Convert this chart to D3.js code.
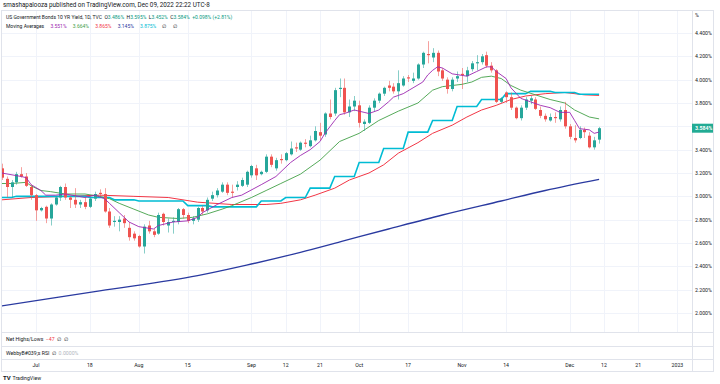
<!DOCTYPE html>
<html>
<head>
<meta charset="utf-8">
<script src="https://cdn.jsdelivr.net/npm/d3@7"></script>
<style>
  body { margin: 0; background: #fff; }
  svg { font-family: Roboto, "Noto Sans", sans-serif; }
</style>
</head>
<body>
<svg id="chart" width="720" height="384"></svg>
<script>
// daily candles, one per weekday starting Jun 22 2022
var firstDay = '2022-06-22';
var opens = [3.24,3.15,3.08,3.12,3.19,3.17,3.08,3.01,2.88,2.91,2.81,2.93,2.99,3.08,2.99,2.97,2.93,2.95,2.91,2.98,
  3.03,3.02,2.87,2.78,2.78,2.81,2.73,2.68,2.66,2.57,2.75,2.70,2.68,2.85,2.75,2.78,2.78,2.89,2.84,2.79,
  2.80,2.90,2.88,2.98,3.01,3.04,3.10,3.04,3.08,3.09,3.10,3.18,3.24,3.19,3.21,3.34,3.24,3.32,3.31,3.36,
  3.42,3.40,3.46,3.43,3.48,3.55,3.53,3.71,3.71,3.92,3.93,3.72,3.77,3.78,3.62,3.63,3.76,3.82,3.88,3.95,
  3.94,3.90,3.95,4.02,3.99,4.01,4.13,4.22,4.19,4.23,4.08,4.00,3.92,4.01,4.05,4.03,4.09,4.14,4.15,4.21,
  4.12,4.08,3.81,3.89,3.85,3.76,3.67,3.76,3.82,3.83,3.74,3.69,3.65,3.68,3.66,3.74,3.60,3.50,3.50,3.57,
  3.52,3.42,3.486];
var highs = [3.28,3.17,3.14,3.21,3.25,3.20,3.10,3.02,2.91,2.92,2.94,3.00,3.09,3.11,3.00,3.07,2.97,2.99,3.00,3.04,
  3.06,3.07,2.90,2.83,2.83,2.84,2.78,2.70,2.67,2.76,2.79,2.72,2.86,2.86,2.81,2.82,2.90,2.90,2.86,2.83,
  2.91,2.92,2.99,3.04,3.07,3.12,3.12,3.10,3.13,3.16,3.22,3.27,3.27,3.22,3.36,3.36,3.33,3.36,3.38,3.47,
  3.46,3.47,3.49,3.52,3.60,3.63,3.72,3.83,3.93,4.01,4.01,3.83,3.86,3.82,3.66,3.78,3.84,3.89,3.94,3.99,
  3.97,4.08,4.03,4.04,4.06,4.14,4.24,4.33,4.27,4.25,4.10,4.02,4.02,4.07,4.10,4.11,4.16,4.21,4.22,4.24,
  4.15,4.09,3.85,3.90,3.89,3.77,3.78,3.85,3.86,3.85,3.77,3.71,3.71,3.72,3.77,3.81,3.62,3.61,3.60,3.59,
  3.55,3.51,3.595];
var lows = [3.14,2.99,2.99,3.10,3.16,3.08,2.97,2.79,2.87,2.77,2.75,2.92,2.96,2.97,2.90,2.90,2.90,2.89,2.90,2.96,
  3.00,2.86,2.73,2.74,2.70,2.73,2.62,2.62,2.56,2.51,2.68,2.65,2.67,2.75,2.69,2.68,2.76,2.81,2.77,2.76,
  2.78,2.84,2.86,2.96,2.99,3.03,3.01,2.99,3.05,3.08,3.08,3.16,3.14,3.18,3.20,3.25,3.22,3.28,3.30,3.35,
  3.38,3.39,3.42,3.42,3.47,3.48,3.51,3.66,3.69,3.85,3.70,3.68,3.73,3.59,3.56,3.62,3.73,3.80,3.86,3.90,
  3.88,3.83,3.94,3.98,3.97,4.00,4.10,4.14,4.15,4.03,3.99,3.88,3.90,3.98,3.92,3.98,4.07,4.08,4.13,4.10,
  4.06,3.80,3.80,3.80,3.74,3.66,3.65,3.74,3.79,3.74,3.67,3.64,3.64,3.63,3.64,3.58,3.49,3.46,3.49,3.50,
  3.41,3.40,3.452];
var closes = [3.16,3.08,3.12,3.19,3.17,3.09,3.01,2.88,2.90,2.81,2.93,2.99,3.08,2.99,2.97,2.93,2.95,2.91,2.98,3.02,
  3.02,2.87,2.75,2.79,2.80,2.77,2.65,2.64,2.57,2.74,2.70,2.67,2.84,2.78,2.78,2.79,2.89,2.84,2.79,2.81,
  2.90,2.87,2.97,3.01,3.05,3.10,3.03,3.03,3.10,3.14,3.21,3.26,3.18,3.21,3.34,3.27,3.31,3.31,3.37,3.41,
  3.41,3.46,3.45,3.48,3.56,3.52,3.71,3.68,3.91,3.93,3.72,3.77,3.82,3.63,3.64,3.76,3.82,3.88,3.93,3.93,
  3.90,3.97,4.01,4.01,4.01,4.13,4.23,4.21,4.23,4.07,4.01,3.92,4.00,4.03,4.04,4.08,4.14,4.15,4.20,4.12,
  4.08,3.81,3.84,3.85,3.76,3.67,3.76,3.83,3.84,3.75,3.69,3.66,3.68,3.67,3.74,3.60,3.51,3.48,3.57,3.55,
  3.42,3.48,3.584];

// moving averages: [candle index, value]
var maPurple = [[0,3.20],[4,3.17],[5,3.16],[6,3.10],[8,3.05],[9,3.01],[11,3.01],[13,3.02],[17,2.99],[19,3.01],
  [21,2.98],[22,2.94],[24,2.86],[26,2.78],[28,2.74],[31,2.72],[32,2.75],[35,2.78],[38,2.79],[40,2.82],[41,2.86],
  [44,2.93],[47,2.99],[49,3.01],[53,3.10],[56,3.17],[59,3.29],[61,3.35],[63,3.40],[65,3.47],[66,3.54],[68,3.65],
  [69,3.70],[70,3.71],[72,3.74],[74,3.72],[75,3.71],[77,3.74],[79,3.81],[80,3.85],[82,3.88],[84,3.93],[86,3.98],
  [87,4.04],[88,4.08],[89,4.11],[90,4.10],[92,4.05],[95,4.03],[97,4.07],[99,4.11],[100,4.11],[101,4.07],[103,4.01],
  [104,3.93],[106,3.84],[108,3.81],[110,3.78],[112,3.76],[114,3.72],[116,3.72],[117,3.65],[118,3.58],[120,3.57],
  [121,3.54],[122,3.551]];
var maGreen = [[0,3.11],[2,3.11],[5,3.12],[6,3.09],[8,3.05],[10,3.04],[13,3.02],[17,3.02],[20,3.00],[22,2.98],
  [24,2.94],[27,2.89],[30,2.84],[32,2.82],[36,2.81],[39,2.82],[42,2.85],[45,2.89],[47,2.92],[51,2.99],[54,3.05],
  [57,3.11],[61,3.19],[65,3.31],[69,3.47],[73,3.54],[77,3.65],[81,3.73],[85,3.80],[88,3.91],[90,3.94],[94,3.96],
  [96,3.98],[98,4.02],[100,4.03],[102,4.01],[104,3.95],[106,3.91],[109,3.87],[112,3.83],[115,3.80],[117,3.74],
  [120,3.68],[122,3.664]];
var maRed = [[0,2.97],[6,2.99],[13,3.00],[20,3.01],[27,3.00],[34,2.99],[40,2.95],[47,2.93],[54,2.93],[57,2.94],
  [61,2.97],[64,3.01],[68,3.07],[71,3.14],[75,3.20],[78,3.27],[81,3.37],[85,3.46],[88,3.54],[92,3.61],[95,3.68],
  [98,3.74],[101,3.78],[104,3.83],[107,3.86],[111,3.88],[115,3.89],[119,3.87],[122,3.865]];
var maBlue = [[0,2.06],[20,2.19],[40,2.32],[50,2.41],[61,2.52],[70,2.62],[79,2.72],[90,2.84],[102,2.96],
  [111,3.05],[122,3.145]];
// weekly step average, one value per week starting Mon Jun 20
var maCyanWeeks = [2.99,3.00,3.00,3.00,2.99,2.97,2.96,2.96,2.92,2.91,2.91,2.96,2.99,3.07,3.17,3.29,3.41,3.55,
  3.65,3.77,3.83,3.88,3.90,3.89,3.875];

var priceTicks = [2.0,2.2,2.4,2.6,2.8,3.0,3.2,3.4,3.6,3.8,4.0,4.2,4.4];
var dateTicks = ['2022-07-01','2022-07-18','2022-08-01','2022-08-15','2022-09-01','2022-09-12','2022-09-21',
  '2022-10-03','2022-10-17','2022-11-01','2022-11-14','2022-12-01','2022-12-12','2022-12-21','2023-01-02'];
var dateLabels = ['Jul','18','Aug','15','Sep','12','21','Oct','17','Nov','14','Dec','12','21','2023'];

var maColors = ['#9c27b0','#43a047','#f23645','#2a3aa0','#00bcd4'];
var maLegend = ['3.551%','3.664%','3.865%','3.145%','3.875%'];
var upColor = '#26a69a', downColor = '#ef5350';

// layout
var paneLeft = 2, paneRight = 692, paneTop = 11, paneBottom = 332;
var axisRight = 713, frameBottom = 371;

var svg = d3.select('#chart');
var parseDay = d3.timeParse('%Y-%m-%d');
var fmtDay = d3.timeFormat('%Y-%m-%d');
var start = parseDay(firstDay);

// all weekdays from the first candle into January
var days = d3.timeDay.range(start, parseDay('2023-01-10')).filter(d => d.getDay() % 6);
var dayKeys = days.map(fmtDay);
function dayIndex(s) { return dayKeys.indexOf(s); }

var x = d3.scaleLinear()
  .domain([dayIndex('2022-07-01'), dayIndex('2022-12-12')])
  .range([36, 604]);
var y = d3.scaleLinear().domain([2.0, 4.4]).range([313, 33]);

var candles = closes.map(function(c, i) {
  return {i: i, day: days[i], o: opens[i], h: highs[i], l: lows[i], c: c};
});

// frame and separators
svg.append('rect')
  .attr('x', 1.5).attr('y', 10.5)
  .attr('width', axisRight - 1).attr('height', frameBottom - 10)
  .attr('fill', 'none').attr('stroke', '#e0e3eb');

svg.append('clipPath').attr('id', 'pane')
  .append('rect')
  .attr('x', paneLeft).attr('y', paneTop)
  .attr('width', paneRight - paneLeft).attr('height', paneBottom - paneTop);

var grid = svg.append('g');
grid.selectAll('.hgrid')
  .data(priceTicks)
  .enter()
  .append('line')
  .attr('x1', paneLeft).attr('x2', paneRight)
  .attr('y1', d => Math.round(y(d)) + 0.5).attr('y2', d => Math.round(y(d)) + 0.5)
  .attr('stroke', '#f0f3fa');
grid.selectAll('.vgrid')
  .data(dateTicks)
  .enter()
  .append('line')
  .attr('x1', d => Math.round(x(dayIndex(d))) + 0.5)
  .attr('x2', d => Math.round(x(dayIndex(d))) + 0.5)
  .attr('y1', paneTop).attr('y2', paneBottom)
  .attr('stroke', '#f0f3fa');

[paneBottom, 346, 359].forEach(function(yy) {
  svg.append('line')
    .attr('x1', 2).attr('x2', axisRight)
    .attr('y1', yy + 0.5).attr('y2', yy + 0.5)
    .attr('stroke', '#e0e3eb');
});
svg.append('line')
  .attr('x1', paneRight + 0.5).attr('x2', paneRight + 0.5)
  .attr('y1', 11).attr('y2', frameBottom)
  .attr('stroke', '#e0e3eb');

var plot = svg.append('g').attr('clip-path', 'url(#pane)');

// moving average lines
var line = d3.line().x(d => x(d[0])).y(d => y(d[1]));
var firstMonday = d3.timeMonday.floor(start);
var cyanDaily = candles.map(d => [d.i, maCyanWeeks[d3.timeMonday.count(firstMonday, d.day)]]);

plot.append('path').datum(maBlue).attr('d', line.curve(d3.curveMonotoneX))
  .attr('fill', 'none').attr('stroke', maColors[3]).attr('stroke-width', 1.3);
line.curve(d3.curveLinear);
plot.append('path').datum(maRed).attr('d', line)
  .attr('fill', 'none').attr('stroke', maColors[2]).attr('stroke-width', 1);
plot.append('path').datum(cyanDaily).attr('d', line)
  .attr('fill', 'none').attr('stroke', maColors[4]).attr('stroke-width', 1.6);
plot.append('path').datum(maGreen).attr('d', line)
  .attr('fill', 'none').attr('stroke', maColors[1]).attr('stroke-width', 0.9);

// candles
var cg = plot.append('g');
cg.selectAll('.wick')
  .data(candles)
  .enter()
  .append('line')
  .attr('x1', d => Math.round(x(d.i)) + 0.5)
  .attr('x2', d => Math.round(x(d.i)) + 0.5)
  .attr('y1', d => y(d.h)).attr('y2', d => y(d.l))
  .attr('stroke', d => d.c >= d.o ? upColor : downColor)
  .attr('stroke-opacity', 0.55);
cg.selectAll('.body')
  .data(candles)
  .enter()
  .append('rect')
  .attr('x', d => Math.round(x(d.i)) - 1)
  .attr('width', 3)
  .attr('y', d => y(Math.max(d.o, d.c)))
  .attr('height', d => Math.max(1, Math.abs(y(d.o) - y(d.c))))
  .attr('fill', d => d.c >= d.o ? upColor : downColor);

plot.append('path').datum(maPurple).attr('d', line)
  .attr('fill', 'none').attr('stroke', maColors[0]).attr('stroke-width', 0.9);

// price axis
var fs = 5.2;
var last = candles[candles.length - 1];
svg.selectAll('.ptick')
  .data(priceTicks.filter(d => Math.abs(y(d) - y(last.c)) > 8))
  .enter()
  .append('text')
  .attr('x', 695).attr('y', d => y(d) + 2)
  .attr('font-size', fs).attr('fill', '#131722')
  .text(d => d.toFixed(3) + '%');
svg.append('text').attr('x', 695).attr('y', 17)
  .attr('font-size', fs).attr('fill', '#131722').text('%');

svg.append('rect')
  .attr('x', paneRight).attr('y', y(last.c) - 4.5)
  .attr('width', axisRight - paneRight).attr('height', 9)
  .attr('fill', '#22ab94');
svg.append('text')
  .attr('x', 695).attr('y', y(last.c) + 2)
  .attr('font-size', fs).attr('fill', '#fff').attr('font-weight', 'bold')
  .text(last.c.toFixed(3) + '%');

// date axis
svg.selectAll('.dtick')
  .data(dateTicks)
  .enter()
  .append('text')
  .attr('x', d => x(dayIndex(d)))
  .attr('y', 367)
  .attr('text-anchor', 'middle')
  .attr('font-size', fs).attr('fill', '#131722')
  .text((d, i) => dateLabels[i]);

// header and legends
svg.append('text').attr('x', 3).attr('y', 7)
  .attr('font-size', 6.3).attr('fill', '#131722')
  .text('smashapalooza published on TradingView.com, Dec 09, 2022 22:22 UTC-8');

var teal = '#089981';
var leg1 = svg.append('text').attr('x', 6).attr('y', 18.5).attr('font-size', 5).attr('fill', '#131722')
  .attr('xml:space', 'preserve');
leg1.append('tspan').text('US Government Bonds 10 YR Yield, 1D, TVC  ');
[['O', '3.486%'], ['H', '3.595%'], ['L', '3.452%'], ['C', '3.584%']].forEach(function(p) {
  leg1.append('tspan').text(p[0]);
  leg1.append('tspan').attr('fill', teal).text(p[1] + '  ');
});
leg1.append('tspan').attr('fill', teal).text('+0.098% (+2.81%)');

var leg2 = svg.append('text').attr('x', 6).attr('y', 27.5).attr('font-size', 5).attr('fill', '#131722')
  .attr('xml:space', 'preserve');
leg2.append('tspan').text('Moving Averages     ');
maLegend.forEach(function(v, i) {
  leg2.append('tspan').attr('fill', maColors[i]).text(v + '     ');
});
leg2.append('tspan').text('\u2205     \u2205');

var sub1 = svg.append('text').attr('x', 6).attr('y', 341).attr('font-size', fs).attr('fill', '#131722')
  .attr('xml:space', 'preserve');
sub1.append('tspan').text('Net Highs/Lows  ');
sub1.append('tspan').attr('fill', '#f23645').text('\u221247  ');
sub1.append('tspan').text('\u2205  \u2205');

var sub2 = svg.append('text').attr('x', 6).attr('y', 354.5).attr('font-size', fs).attr('fill', '#131722')
  .attr('xml:space', 'preserve');
sub2.append('tspan').text('WebbyB#039;s RSI  \u2205  ');
sub2.append('tspan').attr('fill', '#b2b5be').text('0.0000%');

// logo
svg.append('text').attr('x', 3).attr('y', 380)
  .attr('font-size', 6).attr('font-weight', 'bold').attr('fill', '#131722').text('TV');
svg.append('text').attr('x', 12.5).attr('y', 380)
  .attr('font-size', 5.2).attr('fill', '#131722').text('TradingView');
</script>
</body>
</html>
